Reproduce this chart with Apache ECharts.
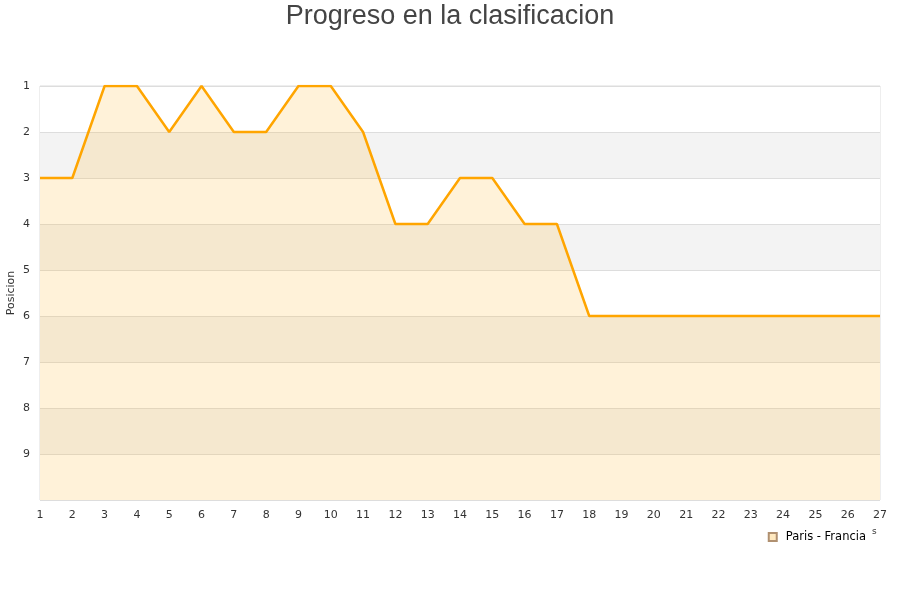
<!DOCTYPE html>
<html><head><meta charset="utf-8">
<script src="https://cdn.jsdelivr.net/npm/echarts@6/dist/echarts.min.js"></script>
<style>html,body{margin:0;padding:0;background:#fff}#c{width:900px;height:600px}</style>
</head><body><div id="c"></div>
<script>
const jornadas = ['1','2','3','4','5','6','7','8','9','10','11','12','13','14','15','16','17','18','19','20','21','22','23','24','25','26','27'];
const posiciones = [3,3,1,1,2,1,2,2,1,1,2,4,4,3,3,4,4,6,6,6,6,6,6,6,6,6,6];
const seriesName = 'Paris - Francia';
const titleText = 'Progreso en la clasificacion';
const yName = 'Posicion';

const chart = echarts.init(document.getElementById('c'), null, {renderer:'canvas'});
chart.setOption({
  animation:false,
  backgroundColor:'#fff',
  title:{text:titleText,left:'center',top:-2,textStyle:{fontFamily:'Liberation Sans',fontSize:27,fontWeight:'normal',color:'#444'}},
  grid:{left:40,right:20,top:86,bottom:100,containLabel:false,outerBoundsMode:'none',show:true,borderColor:'#ddd',borderWidth:1},
  legend:{data:[{name:seriesName,icon:'rect'}],right:29,top:526,itemWidth:8,itemHeight:8,itemGap:8,
    textStyle:{fontFamily:'DejaVu Sans',fontSize:11.5,color:'#000',padding:[0,0,0,4]}},
  xAxis:{type:'category',data:jornadas,boundaryGap:false,
    axisLine:{show:false},axisTick:{show:false},splitLine:{show:false},
    axisLabel:{interval:0,color:'#333',fontFamily:'DejaVu Sans',fontSize:11,margin:10}},
  yAxis:{type:'value',inverse:true,min:1,max:10,interval:1,name:yName,nameLocation:'middle',nameGap:23,nameMoveOverlap:false,
    nameTextStyle:{fontFamily:'DejaVu Sans',fontSize:11,color:'#333'},
    axisLine:{show:false},axisTick:{show:false},
    axisLabel:{color:'#333',fontFamily:'DejaVu Sans',fontSize:11,margin:10,formatter:v=>v===10?'':String(v)},
    splitLine:{show:true,lineStyle:{color:'#ddd'}},
    splitArea:{show:true,areaStyle:{color:['#ffffff','#f3f3f3']}}},
  graphic:[{type:'text',left:872,top:527,style:{text:'s',font:'9px DejaVu Sans',fill:'#333'}}],
  series:[{name:seriesName,type:'line',data:posiciones,symbol:'none',
    lineStyle:{color:'#ffa500',width:2.5},itemStyle:{color:'#ffe9c0',borderColor:'#b09070',borderWidth:0.8},
    areaStyle:{color:'rgba(255,185,55,0.27)',origin:'end'}}]
});
</script></body></html>
